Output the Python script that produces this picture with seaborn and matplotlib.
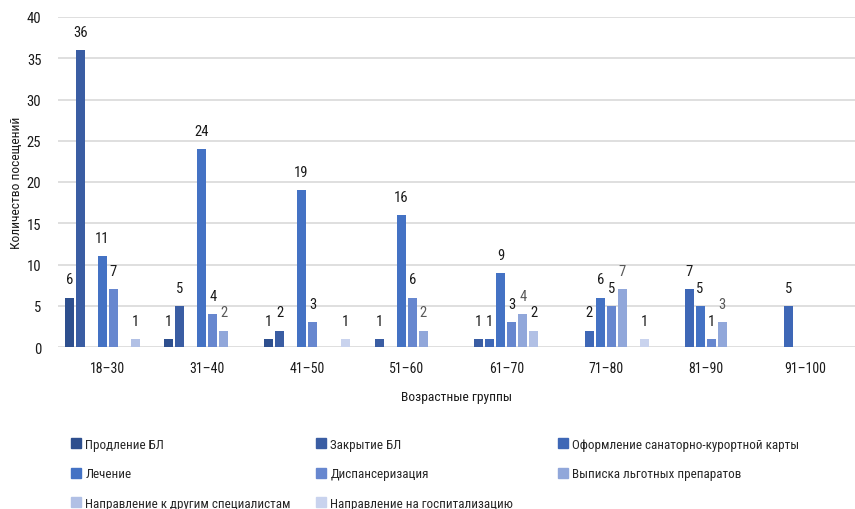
import matplotlib
matplotlib.use("Agg")
import matplotlib.pyplot as plt
from matplotlib import font_manager
import seaborn as sns
import pandas as pd

age_groups = ["18–30", "31–40", "41–50", "51–60", "61–70", "71–80", "81–90", "91–100"]
services = [
    "Продление БЛ",
    "Закрытие БЛ",
    "Оформление санаторно-курортной карты",
    "Лечение",
    "Диспансеризация",
    "Выписка льготных препаратов",
    "Направление к другим специалистам",
    "Направление на госпитализацию",
]
prodlenie = [6, 1, 1, 0, 0, 0, 0, 0]
zakrytie = [36, 5, 2, 1, 1, 0, 0, 0]
sanatorno = [0, 0, 0, 0, 1, 2, 7, 5]
lechenie = [11, 24, 19, 16, 9, 6, 5, 0]
dispanser = [7, 4, 3, 6, 3, 5, 1, 0]
vypiska = [0, 2, 0, 2, 4, 7, 3, 0]
napr_spec = [1, 0, 0, 0, 2, 0, 0, 0]
napr_gosp = [0, 0, 1, 0, 0, 1, 0, 0]
series_values = [prodlenie, zakrytie, sanatorno, lechenie, dispanser, vypiska, napr_spec, napr_gosp]

colors = ["#2E4F8E", "#3A5DA3", "#3E67B6", "#4472C4", "#6787CF", "#91A7DA", "#B1C0E5", "#C9D3EE"]

rows = []
for s, vals in zip(services, series_values):
    for g, v in zip(age_groups, vals):
        rows.append({"group": g, "service": s, "value": v})
df = pd.DataFrame(rows)

sns.set_theme(style="white")

# pick a condensed font if one exists
ttf = font_manager.fontManager.ttflist
names = {f.name for f in ttf}
stretch = "normal"
fam = None
for cand in ["Liberation Sans Narrow", "Roboto Condensed", "Open Sans Condensed", "Noto Sans Condensed"]:
    if cand in names:
        fam = cand
        break
if fam is None:
    for f in ttf:
        if f.name in ("DejaVu Sans", "Noto Sans", "Open Sans", "Roboto") and str(f.stretch) in ("condensed", "semi-condensed", "extra-condensed"):
            fam = f.name
            stretch = "condensed"
            break
if fam is None:
    fam = "Roboto" if "Roboto" in names else "DejaVu Sans"
plt.rcParams["font.family"] = [fam, "DejaVu Sans"]
plt.rcParams["font.stretch"] = stretch
FS_NUM = 10.5
FS_TXT = 9.4

fig = plt.figure(figsize=(8.55, 5.10), dpi=100)
ax = fig.add_axes([58 / 855, 1 - 348 / 510, (855 - 58) / 855, 330 / 510])

sns.barplot(data=df, x="group", y="value", hue="service", order=age_groups,
            hue_order=services, palette=colors, width=0.884, gap=0.18,
            dodge=True, legend=False, ax=ax, saturation=1, linewidth=0)

for i, cont in enumerate(ax.containers):
    vals = series_values[i]
    labels = [str(v) if v != 0 else "" for v in vals]
    ax.bar_label(cont, labels=labels, padding=8, fontsize=FS_NUM,
                 color="#595959" if i == 5 else "#1a1a1a")

ax.set_ylim(0, 40)
ax.set_xlim(-0.5, 7.5)
ax.set_yticks(range(0, 41, 5))
ax.yaxis.grid(True, color="#d9d9d9", linewidth=1.2)
ax.set_axisbelow(True)
for sp in ax.spines.values():
    sp.set_visible(False)
ax.tick_params(axis="y", length=0, labelsize=FS_NUM, colors="#1a1a1a", pad=12)
ax.tick_params(axis="x", length=0, labelsize=FS_NUM - 0.5, colors="#1a1a1a", pad=10)
ax.set_xlabel("Возрастные группы", fontsize=FS_TXT + 0.3, color="#1a1a1a", labelpad=11)
ax.set_ylabel("Количество посещений", fontsize=FS_TXT + 0.3, color="#1a1a1a")
ax.yaxis.set_label_coords((23 - 58) / 797, 0.5)

handles = [plt.Rectangle((0, 0), 1, 1, color=c) for c in colors]
cols = [[0, 3, 6], [1, 4, 7], [2, 5]]
xs = [71, 316, 558]
for xpos, idxs in zip(xs, cols):
    fig.legend([handles[i] for i in idxs], [services[i] for i in idxs],
               loc="upper left", bbox_to_anchor=(xpos / 855, 1 - 439 / 510),
               frameon=False, fontsize=FS_TXT, handlelength=0.8, handleheight=0.8,
               handletextpad=0.3, labelspacing=1.25, borderpad=0, borderaxespad=0)

fig.savefig("out.png", dpi=100)
